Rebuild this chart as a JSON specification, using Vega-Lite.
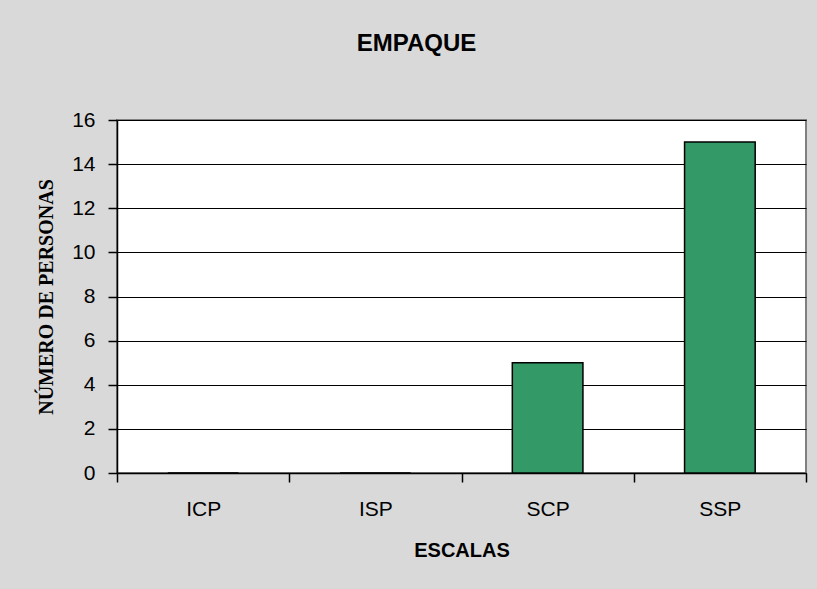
{
  "$schema": "https://vega.github.io/schema/vega-lite/v6.json",
  "width": 689,
  "height": 353,
  "autosize": {"type": "none"},
  "padding": {"left": 117, "top": 120, "right": 11, "bottom": 116},
  "background": "#d9d9d9",
  "title": {
    "text": "EMPAQUE",
    "font": "Liberation Sans",
    "fontSize": 24,
    "fontWeight": "bold",
    "color": "black",
    "anchor": "middle",
    "dx": -45,
    "offset": 29,
    "baseline": "bottom"
  },
  "data": {
    "values": [
      {"escala": "ICP", "personas": 0},
      {"escala": "ISP", "personas": 0},
      {"escala": "SCP", "personas": 5},
      {"escala": "SSP", "personas": 15}
    ]
  },
  "mark": {
    "type": "bar",
    "color": "#339966",
    "stroke": "black",
    "strokeWidth": 1.5,
    "width": {"band": 0.41}
  },
  "encoding": {
    "x": {
      "field": "escala",
      "type": "nominal",
      "sort": null,
      "scale": {"paddingInner": 0, "paddingOuter": 0},
      "axis": {
        "title": "ESCALAS",
        "tickBand": "extent",
        "labelAngle": 0,
        "labelFont": "Liberation Sans",
        "labelFontSize": 21,
        "labelColor": "black",
        "labelPadding": 16,
        "titleFont": "Liberation Sans",
        "titleFontSize": 20,
        "titleFontWeight": "bold",
        "titleColor": "black",
        "titlePadding": 21,
        "domainColor": "black",
        "domainWidth": 1.5,
        "tickColor": "black",
        "tickWidth": 1.5,
        "tickSize": 9,
        "grid": false
      }
    },
    "y": {
      "field": "personas",
      "type": "quantitative",
      "scale": {"domain": [0, 16], "nice": false},
      "axis": {
        "title": "NÚMERO DE PERSONAS",
        "values": [0, 2, 4, 6, 8, 10, 12, 14, 16],
        "labelFont": "Liberation Sans",
        "labelFontSize": 21,
        "labelColor": "black",
        "labelPadding": 13,
        "titleFont": "Liberation Serif",
        "titleFontSize": 20,
        "titleFontWeight": "bold",
        "titleColor": "black",
        "titlePadding": 15,
        "domainColor": "black",
        "domainWidth": 1.5,
        "tickColor": "black",
        "tickWidth": 1.5,
        "tickSize": 9,
        "grid": true,
        "gridColor": "black",
        "gridWidth": 1.2,
        "gridOpacity": 1
      }
    }
  },
  "config": {
    "view": {"fill": "white", "stroke": "#808080", "strokeWidth": 2}
  }
}
